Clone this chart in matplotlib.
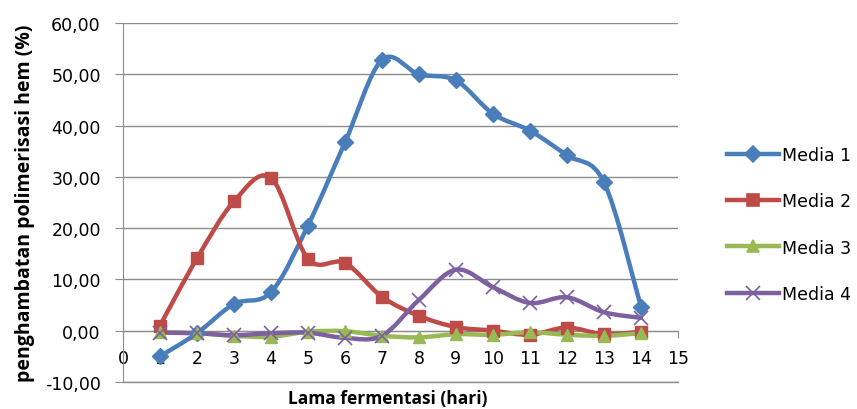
import matplotlib
matplotlib.use("Agg")
import matplotlib.pyplot as plt
from matplotlib.path import Path
from matplotlib.patches import PathPatch
from matplotlib.lines import Line2D
from matplotlib.ticker import FuncFormatter

plt.rcParams['font.family'] = ['DejaVu Sans']

hari = [1, 2, 3, 4, 5, 6, 7, 8, 9, 10, 11, 12, 13, 14]
media1 = [-5.0, -0.5, 5.2, 7.5, 20.5, 36.7, 52.8, 50.0, 48.8, 42.3, 39.0, 34.2, 29.0, 4.7]
media2 = [1.0, 14.1, 25.2, 29.8, 14.0, 13.2, 6.6, 2.9, 0.7, 0.0, -0.8, 0.6, -0.7, -0.2]
media3 = [-0.3, -0.5, -1.0, -1.2, -0.2, -0.1, -1.0, -1.3, -0.7, -0.8, -0.3, -0.8, -1.0, -0.5]
media4 = [-0.4, -0.5, -0.9, -0.5, -0.4, -1.4, -1.0, 6.0, 11.9, 8.5, 5.4, 6.5, 3.6, 2.5]

names = ["Media 1", "Media 2", "Media 3", "Media 4"]
colors = ["#4A7EBB", "#BE4B48", "#98B954", "#7D60A0"]
markers = ["D", "s", "^", "x"]


def smooth_path(x, y):
    # Excel-style smoothed line: cubic bezier segments through the points
    verts = [(x[0], y[0])]
    codes = [Path.MOVETO]
    n = len(x)
    for i in range(n - 1):
        x0, y0 = (x[i - 1], y[i - 1]) if i > 0 else (x[i], y[i])
        x3, y3 = (x[i + 2], y[i + 2]) if i + 2 < n else (x[i + 1], y[i + 1])
        c1 = (x[i] + (x[i + 1] - x0) / 6, y[i] + (y[i + 1] - y0) / 6)
        c2 = (x[i + 1] - (x3 - x[i]) / 6, y[i + 1] - (y3 - y[i]) / 6)
        verts += [c1, c2, (x[i + 1], y[i + 1])]
        codes += [Path.CURVE4] * 3
    return Path(verts, codes)


fig = plt.figure(figsize=(8.57, 4.10), dpi=100)
ax = fig.add_axes([0.1435, 0.066, 0.6475, 0.8755])

handles = []
for vals, name, c, m in zip([media1, media2, media3, media4], names, colors, markers):
    ax.add_patch(PathPatch(smooth_path(hari, vals), facecolor="none", edgecolor=c,
                           lw=3.2, capstyle="round", joinstyle="round", zorder=3))
    if m == "x":
        ax.plot(hari, vals, linestyle="none", marker=m, ms=10, mew=1.2, color=c, zorder=4)
    else:
        ax.plot(hari, vals, linestyle="none", marker=m, ms=9 if m != "D" else 8,
                color=c, zorder=4)
    handles.append(Line2D([0], [0], color=c, lw=3.2, marker=m,
                          ms=8 if m != "x" else 10, mew=1.2))

ax.set_xlim(0, 15)
ax.set_ylim(-10, 60)
ax.set_xticks(range(0, 16))
ax.set_yticks(range(-10, 61, 10))
ax.yaxis.set_major_formatter(FuncFormatter(lambda v, p: ("%.2f" % v).replace(".", ",")))
ax.grid(axis="y", color="#8C8C8C", lw=1)
ax.axhline(-10, color="#8C8C8C", lw=1, clip_on=False, zorder=0.5)
ax.set_axisbelow(True)

for s in ["top", "right"]:
    ax.spines[s].set_visible(False)
ax.spines["bottom"].set_position(("data", 0))
ax.spines["bottom"].set_color("#8C8C8C")
ax.spines["left"].set_color("#8C8C8C")
ax.tick_params(axis="y", length=6, color="#8C8C8C", labelsize=12.5, pad=10)
ax.tick_params(axis="x", length=5, color="#8C8C8C", labelsize=12.5, pad=8)

ax.set_ylabel("penghambatan polimerisasi hem (%)", fontsize=14, fontweight="bold",
              family=["Open Sans", "DejaVu Sans"])
ax.yaxis.set_label_coords(-0.158, 0.5)
fig.text(0.452, 0.027, "Lama fermentasi (hari)", fontsize=12.5, fontweight="bold",
         family=["Open Sans", "DejaVu Sans"], ha="center", va="center")

fig.legend(handles, names, loc="center left", bbox_to_anchor=(0.83, 0.45),
           frameon=False, fontsize=12.5, labelspacing=1.62, handlelength=3.0,
           handletextpad=0.15)

plt.savefig("out.png", dpi=100)
